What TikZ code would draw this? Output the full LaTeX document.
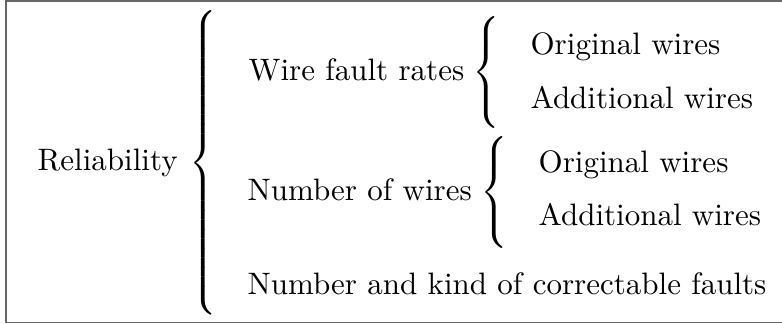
\documentclass[tikz,border=0pt]{standalone}
\usepackage{tikz}
\usepackage{graphicx}

% dấu ngoặc nhọn kéo dài theo chiều cao cho trước
\newcommand{\ngoac}[1]{$\delimitershortfall=0pt\delimiterfactor=1000
  \left\{\vcenter{\hrule height #1 width 0pt}\right.$}

\begin{document}
\begin{tikzpicture}[muc/.style={anchor=base west, inner sep=0pt},
    ngoacnhon/.style={anchor=west, inner sep=0pt}]
    \useasboundingbox (0,0) rectangle (8.866,3.673);
    % Khung bao
    \draw[black!60, line width=0.6pt] (0.068,0.017) rectangle (9.2,3.662);

    % Mục gốc
    \node[muc] (rel) at (0.42,1.735) {Reliability};
    \node[ngoacnhon] (br0) at (2.14,1.825) {\scalebox{1}[1.025]{\ngoac{96pt}}};

    % Các mục cấp 1
    \node[muc] (wfr) at (2.812,2.766) {Wire fault rates};
    \node[muc] (now) at (2.800,1.395) {Number of wires};
    \node[muc] (nkf) at (2.800,0.329) {Number and kind of correctable faults};

    % Các mục cấp 2
    \node[ngoacnhon] (br1) at (5.35,2.85) {\ngoac{36pt}};
    \node[muc] (ow1) at (6.009,3.050) {Original wires};
    \node[muc] (aw1) at (6.009,2.438) {Additional wires};

    \node[ngoacnhon] (br2) at (5.435,1.49) {\ngoac{36pt}};
    \node[muc] (ow2) at (6.100,1.712) {Original wires};
    \node[muc] (aw2) at (6.100,1.111) {Additional wires};
\end{tikzpicture}
\end{document}
